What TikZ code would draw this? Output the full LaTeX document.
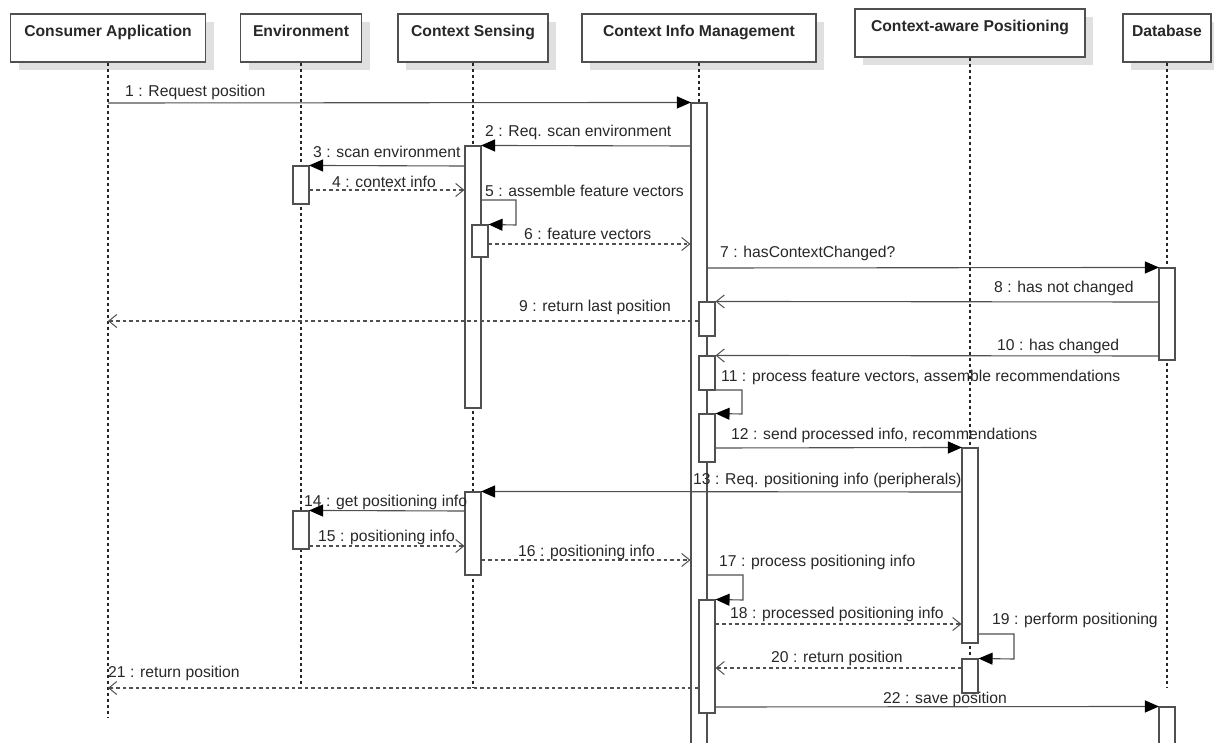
\documentclass[tikz,border=0pt]{standalone}
\usepackage{fontspec}
\setmainfont{Liberation Sans}
\usetikzlibrary{arrows.meta,shadows}
\definecolor{ln}{RGB}{80,80,80}
\definecolor{tx}{RGB}{40,40,40}
\begin{document}
\begin{tikzpicture}[x=1pt,y=-1pt,
  every node/.style={font=\fontsize{15.7}{18}\selectfont, text=tx},
  hdr/.style={draw=ln, line width=1.1pt, fill=white, inner xsep=0pt, inner ysep=0pt,
    text height=22pt, text depth=26pt, font=\fontsize{15.7}{18}\selectfont\bfseries,
    general shadow={fill=black!12, shadow xshift=8pt, shadow yshift=-8pt}},
  life/.style={draw=black!85, line width=1.1pt, dash pattern=on 3pt off 3pt},
  bar/.style={draw=ln, line width=1.1pt, fill=white, minimum width=16pt, inner sep=0pt},
  sync/.style={draw=ln, line width=1.1pt, -{Triangle[length=14pt,width=12pt,color=black]}, shorten >=-0.5pt},
  reply/.style={draw=ln, line width=1.1pt, dash pattern=on 3.5pt off 3pt, -{Straight Barb[length=8pt,width=13pt,line width=1pt]}},
  answer/.style={draw=ln, line width=1.1pt, -{Straight Barb[length=8pt,width=13pt,line width=1pt]}},
  self/.style={draw=ln, line width=1.1pt, -{Triangle[length=14pt,width=12pt,color=black]}},
  lbl/.style={anchor=west, inner sep=0pt}
]
\useasboundingbox (0,0) rectangle (1214,742);
\fill[white] (0,0) rectangle (1214,742);

% headers
\node[hdr, minimum width=195pt] (ca)  at (108,38) {Consumer Application};
\node[hdr, minimum width=121pt] (env) at (301,38) {Environment};
\node[hdr, minimum width=150pt] (cs)  at (473,38) {Context Sensing};
\node[hdr, minimum width=234pt] (cim) at (699,38) {Context Info Management};
\node[hdr, minimum width=230pt] (cap) at (970,33) {Context-aware Positioning};
\node[hdr, minimum width=88pt]  (db)  at (1167,38) {Database};

% lifeline ends
\coordinate (caE)  at (108,718);
\coordinate (envE) at (301,688);
\coordinate (csE)  at (473,688);
\coordinate (cimE0) at (699,103);
\coordinate (capE) at (970,659);
\coordinate (dbE)  at (1167,688);

\draw[life] (ca.south) -- (caE);
\draw[life] (env.south) -- (envE);
\draw[life] (cs.south) -- (csE);
\draw[life] (cim.south) -- (cimE0);
\draw[life] (cap.south) -- (capE);
\draw[life] (db.south) -- (dbE);

% activation bars
\node[bar, minimum height=657pt] (cimA) at (699,431.5) {};
\node[bar, minimum height=262pt] (csA)  at (473,277) {};
\node[bar, minimum height=38pt]  (envA) at (301,185) {};
\node[bar, minimum height=32pt]  (csB)  at (480,241) {};
\node[bar, minimum height=92pt]  (dbA)  at (1167,314) {};
\node[bar, minimum height=34pt]  (cimB) at (707,319) {};
\node[bar, minimum height=34pt]  (cimC) at (707,373) {};
\node[bar, minimum height=48pt]  (cimD) at (707,438) {};
\node[bar, minimum height=195pt] (capA) at (970,545.5) {};
\node[bar, minimum height=83pt]  (csC)  at (473,533.5) {};
\node[bar, minimum height=38pt]  (envB) at (301,530) {};
\node[bar, minimum height=113pt] (cimF) at (707,656.5) {};
\node[bar, minimum height=34pt]  (capB) at (970,676) {};
\node[bar, minimum height=60pt]  (dbB)  at (1167,737) {};

% messages
\draw[sync]   (ca.south |- 0,103) -- (cimA.north west);
\draw[sync]   (cimA.west |- 0,146) -- (csA.north east);
\draw[sync]   (csA.west |- 0,166) -- (envA.north east);
\draw[reply]  (envA.east |- 0,190) -- (csA.west |- 0,190);
\draw[self]   (csA.east |- 0,200) -- (516,200) -- (516,225) -- (csB.north east);
\draw[reply]  (csB.east |- 0,244) -- (cimA.west |- 0,244);
\draw[sync]   (cimA.east |- 0,268) -- (dbA.north west);
\draw[answer] (dbA.west |- 0,302) -- (cimB.north east);
\draw[reply]  (cimB.west |- 0,321) -- (ca.south |- 0,321);
\draw[answer] (dbA.west |- 0,356) -- (cimC.north east);
\draw[self]   (cimA.east |- 0,390) -- (742,390) -- (742,414) -- (cimD.north east);
\draw[sync]   (cimD.east |- 0,448) -- (capA.north west);
\draw[sync]   (capA.west |- 0,492) -- (csC.north east);
\draw[sync]   (csC.west |- 0,511) -- (envB.north east);
\draw[reply]  (envB.east |- 0,546) -- (csC.west |- 0,546);
\draw[reply]  (csC.east |- 0,560) -- (cimA.west |- 0,560);
\draw[self]   (cimA.east |- 0,575) -- (743,575) -- (743,600) -- (cimF.north east);
\draw[reply]  (cimF.east |- 0,624) -- (capA.west |- 0,624);
\draw[self]   (capA.east |- 0,634) -- (1014,634) -- (1014,659) -- (capB.north east);
\draw[reply]  (capB.west |- 0,668) -- (cimF.east |- 0,668);
\draw[reply]  (cimF.west |- 0,688) -- (ca.south |- 0,688);
\draw[sync]   (cimF.east |- 0,707) -- (dbB.north west);

% labels
\node[lbl] (l1)  at (125,92)  {1 : Request position};
\node[lbl] (l2)  at (485,132) {2 : Req. scan environment};
\node[lbl] (l3)  at (313,152) {3 : scan environment};
\node[lbl] (l4)  at (332,182) {4 : context info};
\node[lbl] (l5)  at (485,191) {5 : assemble feature vectors};
\node[lbl] (l6)  at (524,234) {6 : feature vectors};
\node[lbl] (l7)  at (720,253) {7 : hasContextChanged?};
\node[lbl] (l8)  at (994,288) {8 : has not changed};
\node[lbl] (l9)  at (519,307) {9 : return last position};
\node[lbl] (l10) at (997,346) {10 : has changed};
\node[lbl] (l11) at (721,377) {11 : process feature vectors, assemble recommendations};
\node[lbl] (l12) at (731,435) {12 : send processed info, recommendations};
\node[lbl] (l13) at (693,480) {13 : Req. positioning info (peripherals)};
\node[lbl] (l14) at (304,502) {14 : get positioning info};
\node[lbl] (l15) at (318,537) {15 : positioning info};
\node[lbl] (l16) at (518,552) {16 : positioning info};
\node[lbl] (l17) at (719,562) {17 : process positioning info};
\node[lbl] (l18) at (730,614) {18 : processed positioning info};
\node[lbl] (l19) at (992,620) {19 : perform positioning};
\node[lbl] (l20) at (771,658) {20 : return position};
\node[lbl] (l21) at (108,673) {21 : return position};
\node[lbl] (l22) at (883,699) {22 : save position};
\end{tikzpicture}
\end{document}
